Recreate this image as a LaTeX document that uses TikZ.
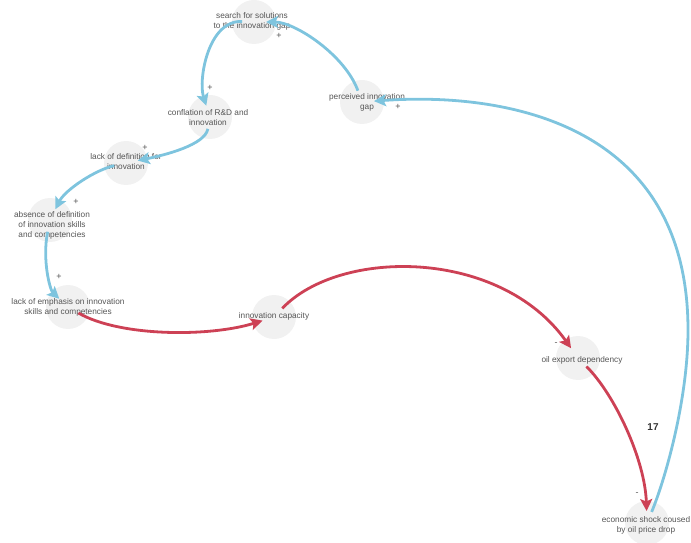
\documentclass[tikz,border=0pt]{standalone}
\usepackage{fontspec}
\setmainfont{Liberation Sans}
\usepackage{tikz}
\usetikzlibrary{arrows.meta}
\definecolor{loopblue}{RGB}{126,196,222}
\definecolor{loopred}{RGB}{205,65,85}
\definecolor{bubgray}{RGB}{241,241,241}
\definecolor{txtgray}{RGB}{85,85,85}

\begin{document}
\begin{tikzpicture}[x=1bp,y=-1bp,
	bub/.style={circle,fill=bubgray,minimum size=44bp,inner sep=0pt},
	txt/.style={align=center,text=txtgray,font=\fontsize{8.3}{10}\selectfont,inner sep=0pt},
	sgn/.style={text=txtgray,font=\fontsize{9}{10}\selectfont,inner sep=0pt},
	poslink/.style={draw=loopblue,line width=2.8bp,-{Stealth[length=12bp,width=12bp,inset=2.5bp]},shorten <=12bp,shorten >=12bp},
	neglink/.style={draw=loopred,line width=2.8bp,-{Stealth[length=12bp,width=12bp,inset=2.5bp]},shorten <=12bp,shorten >=12bp}]
	\useasboundingbox (0,0) rectangle (691,543);
	% circles
	\node[bub] (search) at (254,22) {};
	\node[bub] (perc) at (362,102) {};
	\node[bub] (confl) at (210,117) {};
	\node[bub] (lackdef) at (126,163) {};
	\node[bub] (absence) at (50,220) {};
	\node[bub] (emph) at (68,307) {};
	\node[bub] (cap) at (274,317) {};
	\node[bub] (oil) at (578,358) {};
	\node[bub] (shock) at (647,523) {};
	% texts
	\node[txt] (search-t) at (252,21) {search for solutions\\to the innovation gap};
	\node[txt] (perc-t) at (367,102) {perceived innovation\\gap};
	\node[txt] (confl-t) at (208,118) {conflation of R\&D and\\innovation};
	\node[txt] (lackdef-t) at (126,162) {lack of definition for\\innovation};
	\node[txt] (absence-t) at (52,225) {absence of definition\\of innovation skills\\and competencies};
	\node[txt] (emph-t) at (68,307) {lack of emphasis on innovation\\skills and competencies};
	\node[txt] (cap-t) at (274,316) {innovation capacity};
	\node[txt] (oil-t) at (582,360) {oil export dependency};
	\node[txt] (shock-t) at (646,525) {economic shock coused\\by oil price drop};
	\node[font=\bfseries\fontsize{10}{12}\selectfont,text=black!80] (num) at (653,427) {17};
	% links
	\draw[poslink] (perc.center) .. controls (345,55) and (295,22) .. (search.center);
	\draw[poslink] (search.center) .. controls (208,20) and (198,80) .. (confl.center);
	\draw[poslink] (confl.center) .. controls (205,145) and (165,155) .. (lackdef.center);
	\draw[poslink] (lackdef.center) .. controls (95,170) and (65,190) .. (absence.center);
	\draw[poslink] (absence.center) .. controls (42,260) and (50,290) .. (emph.center);
	\draw[poslink] (shock.center) .. controls (665,480) and (688,400) .. (688,330)
		.. controls (688,120) and (500,92) .. (perc.center);
	\draw[neglink] (emph.center) .. controls (120,337) and (210,337) .. (cap.center);
	\draw[neglink] (cap.center) .. controls (340,248) and (500,248) .. (oil.center);
	\draw[neglink] (oil.center) .. controls (615,395) and (645,460) .. (shock.center);
	% polarities
	\node[sgn] (s1) at (279,36) {+};
	\node[sgn] (s2) at (210,88) {+};
	\node[sgn] (s3) at (145,148) {+};
	\node[sgn] (s4) at (76,202) {+};
	\node[sgn] (s5) at (59,277) {+};
	\node[sgn] (s6) at (398,107) {+};
	\node[sgn] (s7) at (556,344) {-};
	\node[sgn] (s8) at (637,494) {-};
\end{tikzpicture}
\end{document}
